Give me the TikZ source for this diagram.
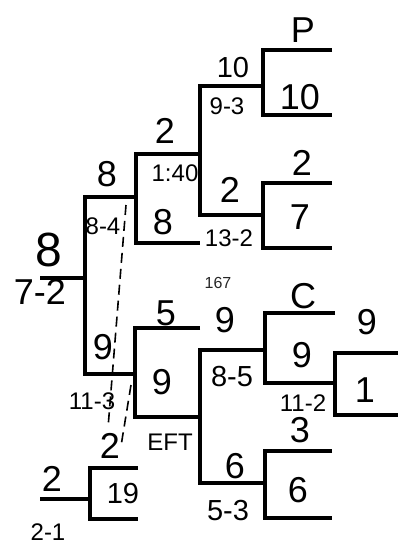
\documentclass[tikz,border=0pt]{standalone}
\usepackage{fontspec}
\setmainfont{Liberation Sans}

\begin{document}
\begin{tikzpicture}[x=1pt,y=-1pt,
  line/.style={draw=black,line width=3.5pt},
  dashline/.style={draw=black,line width=1.6pt,dash pattern=on 10pt off 6pt},
  seed/.style={font=\fontsize{36}{36}\selectfont,text=black,inner sep=0pt},
  score/.style={font=\fontsize{24}{24}\selectfont,text=black,inner sep=0pt},
  bigscore/.style={font=\fontsize{29}{29}\selectfont,text=black,inner sep=0pt},
  print/.style={font=\fontsize{16}{16}\selectfont,text=black!85,inner sep=0pt},
]
\useasboundingbox (0,0) rectangle (398,550);
% brackets: x/top/bottom/right end
\foreach \x/\t/\b/\r in {263/50/115/332,263/183/248/332,200/86/215/263,136/154/243/200,
  85/197/374/135,135/328/417/200,200/350/483/265,265/313/383/335,335/353/415/398,
  265/451/518/332,90/468/519/138}{
  \draw[line] (\r,\t) -| (\x,\b) -- (\r,\b);
}
\draw[line] (40,278) -- (85,278);
\draw[line] (40,499) -- (90,499);
\draw[dashline] (126,205) -- (108,428);
\draw[dashline] (131,385) -- (121,446);
% upper half
\node[seed] (p) at (303,30) {P};
\node[seed] (ten) at (300,97) {10};
\node[bigscore] (tenw) at (233,68) {10};
\node[score] (r93) at (227,106) {9-3};
\node[seed] (twoa) at (302,163) {2};
\node[seed] (seven) at (300,217) {7};
\node[seed] (twob) at (230,190) {2};
\node[score] (r132) at (229,238) {13-2};
\node[seed] (twoc) at (165,131) {2};
\node[score] (r140) at (175,173) {1:40};
\node[seed] (eight) at (163,222) {8};
\node[seed] (eighta) at (107,174) {8};
\node[score] (r84) at (103,226) {8-4};
\node[font=\fontsize{48}{48}\selectfont,inner sep=0pt] (champ) at (49,250) {8};
\node[seed] (r72) at (40,292) {7-2};
% lower half
\node[print] (n167) at (218,283) {167};
\node[seed] (five) at (166,313) {5};
\node[seed] (ninea) at (225,320) {9};
\node[bigscore] (r85) at (232,377) {8-5};
\node[seed] (nineb) at (162,382) {9};
\node[score] (eft) at (170,442) {EFT};
\node[seed] (six) at (235,466) {6};
\node[bigscore] (r53) at (228,511) {5-3};
\node[seed] (c) at (303,296) {C};
\node[seed] (ninec) at (302,355) {9};
\node[score] (r112) at (303,403) {11-2};
\node[seed] (nined) at (367,322) {9};
\node[seed] (one) at (365,390) {1};
\node[seed] (three) at (300,430) {3};
\node[seed] (sixb) at (298,490) {6};
\node[seed] (ninee) at (103,347) {9};
\node[score] (r113) at (92,401) {11-3};
\node[seed] (twod) at (110,446) {2};
\node[seed] (twoe) at (52,479) {2};
\node[bigscore] (nineteen) at (123,494) {19};
\node[score] (r21) at (48,532) {2-1};
\end{tikzpicture}
\end{document}
